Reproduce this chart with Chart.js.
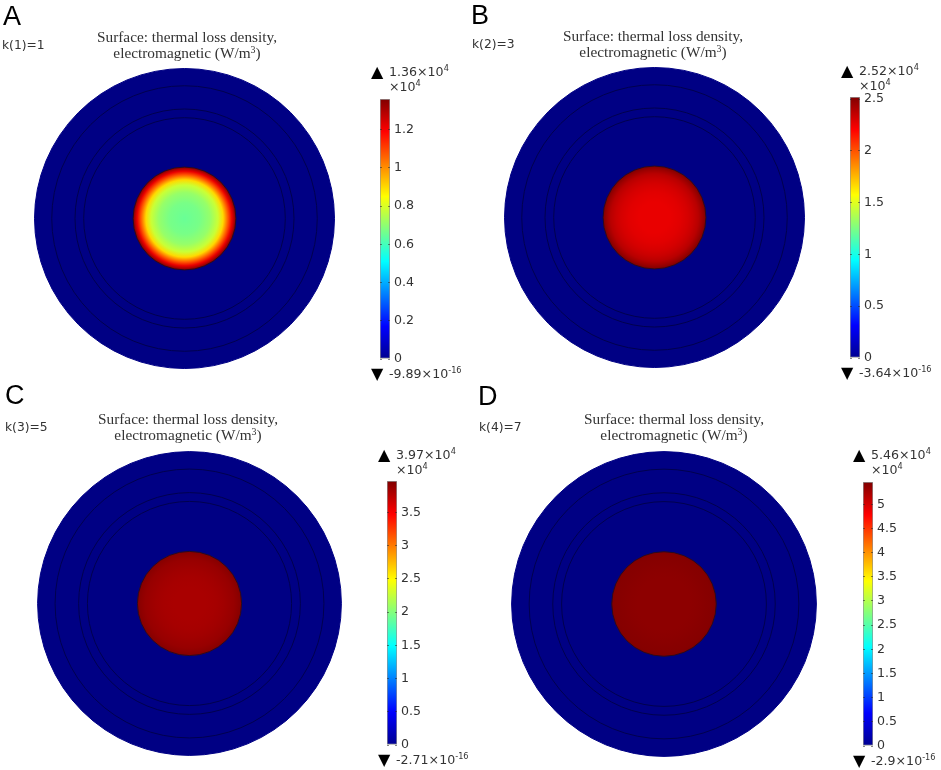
<!DOCTYPE html>
<html>
<head>
<meta charset="utf-8">
<title>Surface: thermal loss density</title>
<script src="https://cdn.jsdelivr.net/npm/chart.js@4"></script>
<style>
  html, body { margin: 0; padding: 0; background: #fff; }
  #page { position: relative; width: 941px; height: 770px; overflow: hidden; filter: blur(0.35px); }
  canvas { position: absolute; display: block; }
  .txt { position: absolute; white-space: nowrap; transform: translateY(-50%); }
  .letter { font: 27px "Liberation Sans", sans-serif; color: #000; }
  .k { font: 12.3px "DejaVu Sans", sans-serif; color: #333; }
  .title { font: 15.3px "Liberation Serif", serif; color: #333; text-align: center; transform: translate(-50%, -50%); }
  .num { font: 12.6px "DejaVu Sans", sans-serif; color: #333; }
  .tri { font: 16px "DejaVu Sans", sans-serif; color: #000; }
  sup { font-size: 0.65em; line-height: 0; vertical-align: 0.55em; }
</style>
</head>
<body>
<div id="page"></div>
<script>
// --- data ---
const panelLetters = ['A', 'B', 'C', 'D'];
const kLabels = ['k(1)=1', 'k(2)=3', 'k(3)=5', 'k(4)=7'];
const maxLabels = ['1.36×10<sup>4</sup>', '2.52×10<sup>4</sup>', '3.97×10<sup>4</sup>', '5.46×10<sup>4</sup>'];
const minLabels = ['-9.89×10<sup>-16</sup>', '-3.64×10<sup>-16</sup>', '-2.71×10<sup>-16</sup>', '-2.9×10<sup>-16</sup>'];
const barMax = [1.36, 2.52, 3.97, 5.46];
const ticksA = [0, 0.2, 0.4, 0.6, 0.8, 1, 1.2];
const ticksB = [0, 0.5, 1, 1.5, 2, 2.5];
const ticksC = [0, 0.5, 1, 1.5, 2, 2.5, 3, 3.5];
const ticksD = [0, 0.5, 1, 1.5, 2, 2.5, 3, 3.5, 4, 4.5, 5];
const barTicks = [ticksA, ticksB, ticksC, ticksD];

// circle boundaries, as a fraction of the outer radius
const ringRadii = [1, 0.885, 0.73, 0.672];
const coreRadius = 0.343;

// loss density (x10^4 W/m3) going from centre to edge of the core
const heatR = [0, 0.3, 0.5, 0.65, 0.75, 0.85, 0.92, 1];
const heatA = [0.65, 0.67, 0.71, 0.78, 0.9, 1.08, 1.22, 1.36];
const heatB = [2.26, 2.26, 2.28, 2.31, 2.34, 2.38, 2.44, 2.52];
const heatC = [3.81, 3.81, 3.82, 3.84, 3.86, 3.88, 3.91, 3.95];
const heatD = [5.39, 5.39, 5.39, 5.40, 5.41, 5.42, 5.43, 5.45];
const heatProfiles = [heatA, heatB, heatC, heatD];

// --- layout of each panel, pixels in the page ---
const layouts = [
  { cx: 184.5, cy: 218.7, R: 150,   bar: [379.5, 98.5, 358.7],  letter: [3, 16],    k: [2, 45],    title: [187, 37],  tri: 371, num: 389, maxY: 71,  minY: 373 },
  { cx: 654.3, cy: 217.7, R: 150,   bar: [850, 97, 358],        letter: [471, 15],  k: [472, 44],  title: [653, 36],  tri: 841, num: 859, maxY: 70,  minY: 372 },
  { cx: 189.7, cy: 603,   R: 152,   bar: [387.3, 481, 745],     letter: [5, 395],   k: [5, 427],   title: [188, 419], tri: 378, num: 396, maxY: 454, minY: 759 },
  { cx: 664,   cy: 604,   R: 152.5, bar: [862.7, 481.7, 746],   letter: [478, 396], k: [479, 427], title: [674, 419], tri: 853, num: 871, maxY: 454, minY: 760 }
];

const page = document.getElementById('page');
const AXIS_LIMIT = 1.05;
const DISC_BLUE = '#000084';

// jet colour map, t from 0 to 1
function jet(t) {
  const stops = [[0, 0, 0, 143], [0.125, 0, 0, 255], [0.375, 0, 255, 255], [0.625, 255, 255, 0], [0.875, 255, 0, 0], [1, 128, 0, 0]];
  t = Math.max(0, Math.min(1, t));
  for (let i = 1; i < stops.length; i++) {
    if (t <= stops[i][0]) {
      const a = stops[i - 1], b = stops[i];
      const f = (t - a[0]) / (b[0] - a[0]);
      return `rgb(${Math.round(a[1] + (b[1] - a[1]) * f)},${Math.round(a[2] + (b[2] - a[2]) * f)},${Math.round(a[3] + (b[3] - a[3]) * f)})`;
    }
  }
  return 'rgb(128,0,0)';
}

function addText(cls, html, x, y) {
  const el = document.createElement('div');
  el.className = 'txt ' + cls;
  el.innerHTML = html;
  el.style.left = x + 'px';
  el.style.top = y + 'px';
  page.appendChild(el);
}

function addCanvas(left, top, width, height) {
  const c = document.createElement('canvas');
  c.width = width;
  c.height = height;
  c.style.left = left + 'px';
  c.style.top = top + 'px';
  c.style.width = width + 'px';
  c.style.height = height + 'px';
  page.appendChild(c);
  return c;
}

// radius in pixels from a radius in axis units
function pixelRadius(ctx, r) {
  const s = ctx.chart.scales.x;
  return s.getPixelForValue(r) - s.getPixelForValue(0);
}

function drawDisc(i) {
  const L = layouts[i];
  const size = Math.round(2 * L.R * AXIS_LIMIT);
  const canvas = addCanvas(L.cx - size / 2, L.cy - size / 2, size, size);
  const heat = heatProfiles[i];

  const coreFill = ctx => {
    const chart = ctx.chart;
    if (!chart.chartArea) return '#a00000';
    const x0 = chart.scales.x.getPixelForValue(0);
    const y0 = chart.scales.y.getPixelForValue(0);
    const g = chart.ctx.createRadialGradient(x0, y0, 0, x0, y0, pixelRadius(ctx, coreRadius));
    heatR.forEach((r, j) => g.addColorStop(r, jet(heat[j] / barMax[i])));
    return g;
  };

  const datasets = [{
    data: [{ x: 0, y: 0 }],
    order: 0,
    pointRadius: ctx => pixelRadius(ctx, coreRadius),
    pointBackgroundColor: coreFill,
    pointBorderColor: '#2a0a20',
    pointBorderWidth: 1
  }];
  ringRadii.forEach((r, j) => {
    datasets.push({
      data: [{ x: 0, y: 0 }],
      order: j === 0 ? 10 : j + 1,
      pointRadius: ctx => pixelRadius(ctx, r),
      pointBackgroundColor: j === 0 ? DISC_BLUE : 'rgba(0,0,0,0)',
      pointBorderColor: j === 0 ? DISC_BLUE : '#00004e',
      pointBorderWidth: 1
    });
  });

  new Chart(canvas, {
    type: 'scatter',
    data: { datasets: datasets },
    options: {
      responsive: false,
      animation: false,
      layout: { padding: 0 },
      plugins: { legend: { display: false }, tooltip: { enabled: false } },
      scales: {
        x: { type: 'linear', display: false, min: -AXIS_LIMIT, max: AXIS_LIMIT },
        y: { type: 'linear', display: false, min: -AXIS_LIMIT, max: AXIS_LIMIT }
      }
    }
  });
}

function drawColorbar(i) {
  const L = layouts[i];
  const pad = 12;  // half a tick label plus the tick padding, so the bar fills the box
  const axisW = 42;
  const canvas = addCanvas(L.bar[0], L.bar[1] - pad, 10 + axisW, Math.round(L.bar[2] - L.bar[1]) + pad * 2);

  const barFill = ctx => {
    const area = ctx.chart.chartArea;
    if (!area) return '#000084';
    const g = ctx.chart.ctx.createLinearGradient(0, area.bottom, 0, area.top);
    for (let t = 0; t <= 8; t++) g.addColorStop(t / 8, jet(t / 8));
    return g;
  };

  new Chart(canvas, {
    type: 'bar',
    data: {
      labels: [''],
      datasets: [{
        data: [[0, barMax[i]]],
        backgroundColor: barFill,
        borderColor: 'rgba(120,120,120,0.8)',
        borderWidth: 1,
        borderSkipped: false,
        barPercentage: 1,
        categoryPercentage: 1
      }]
    },
    options: {
      responsive: false,
      animation: false,
      layout: { autoPadding: false, padding: { top: pad, bottom: pad, left: 0, right: 0 } },
      plugins: { legend: { display: false }, tooltip: { enabled: false } },
      scales: {
        x: { display: false },
        y: {
          position: 'right',
          min: 0,
          max: barMax[i],
          afterFit: s => { s.width = axisW; },
          afterBuildTicks: s => { s.ticks = barTicks[i].map(v => ({ value: v })); },
          // short marks just inside both edges of the bar
          border: { display: false, dash: [2, 6] },
          grid: { drawOnChartArea: true, drawTicks: false, color: 'rgba(40,40,40,0.55)', z: 1 },
          ticks: {
            color: '#333',
            padding: 4,
            font: { family: 'DejaVu Sans', size: 12.6 },
            callback: v => String(v)
          }
        }
      }
    }
  });
}

layouts.forEach((L, i) => {
  drawDisc(i);
  drawColorbar(i);

  addText('letter', panelLetters[i], L.letter[0], L.letter[1]);
  addText('k', kLabels[i], L.k[0], L.k[1]);
  addText('title', 'Surface: thermal loss density,', L.title[0], L.title[1]);
  addText('title', 'electromagnetic (W/m<sup>3</sup>)', L.title[0], L.title[1] + 16);

  addText('tri', '▲', L.tri, L.maxY);
  addText('num', maxLabels[i], L.num, L.maxY);
  addText('num', '×10<sup>4</sup>', L.num, L.maxY + 15);
  addText('tri', '▼', L.tri, L.minY);
  addText('num', minLabels[i], L.num, L.minY);
});
</script>
</body>
</html>
